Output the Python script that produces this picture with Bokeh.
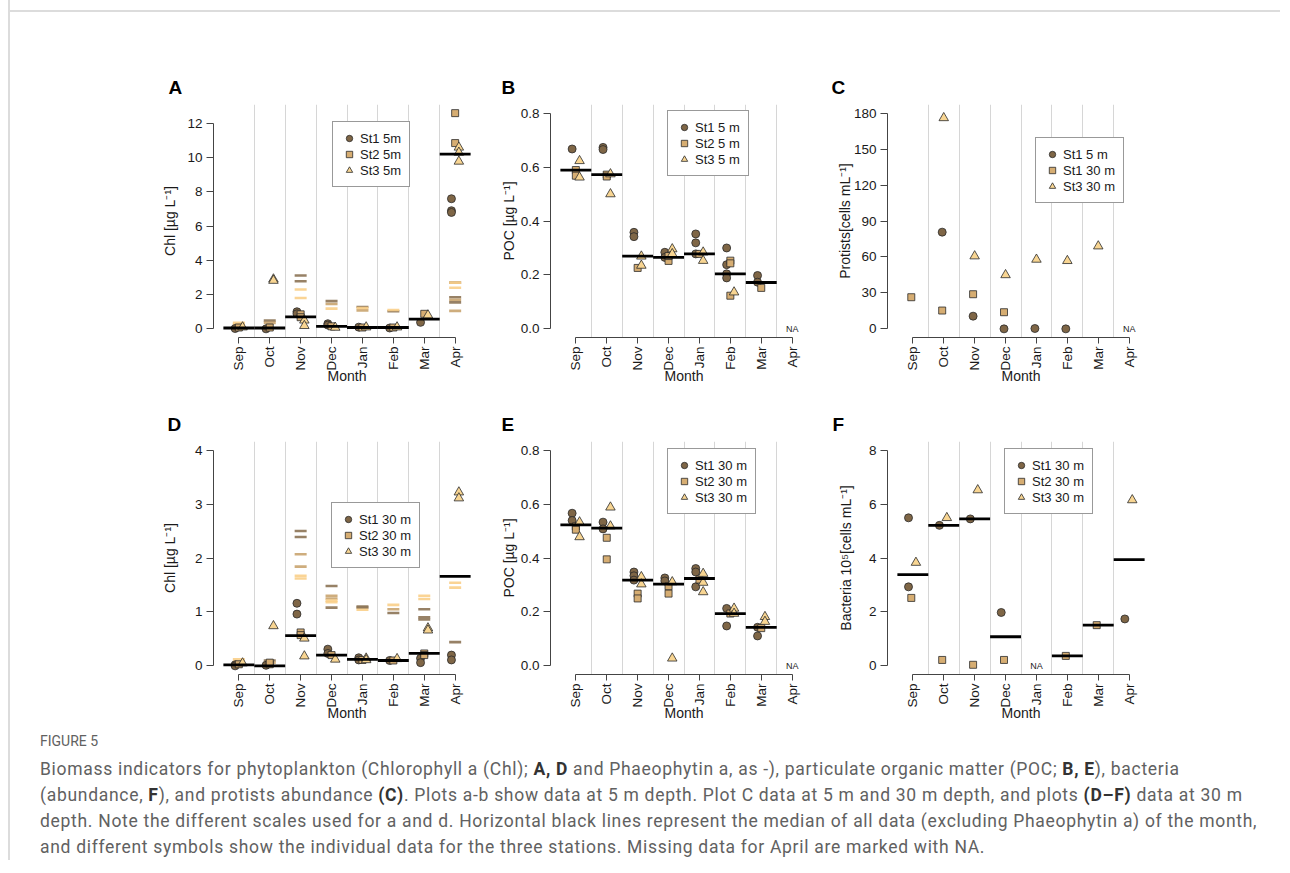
import numpy as np
from bokeh.plotting import figure
from bokeh.models import Range1d, FixedTicker, Div, Spacer
from bokeh.layouts import row, column
from bokeh.embed import file_html
from bokeh.resources import INLINE
from bokeh.core.properties import value

MONTHS = ["Sep", "Oct", "Nov", "Dec", "Jan", "Feb", "Mar", "Apr"]

# ---------------- Panel A: Chl, 5 m ----------------
A_st1_month = ["Sep", "Oct", "Nov", "Nov", "Dec", "Dec", "Jan", "Feb", "Mar", "Apr", "Apr", "Apr"]
A_st1_val = [0.02, 0.0, 1.0, 0.88, 0.3, 0.22, 0.1, 0.05, 0.38, 7.6, 6.9, 6.8]
A_st2_month = ["Sep", "Oct", "Nov", "Nov", "Dec", "Jan", "Feb", "Mar", "Apr", "Apr"]
A_st2_val = [0.08, 0.08, 0.85, 0.68, 0.15, 0.08, 0.08, 0.88, 12.6, 10.85]
A_st3_month = ["Sep", "Oct", "Oct", "Nov", "Nov", "Dec", "Jan", "Feb", "Mar", "Apr", "Apr", "Apr"]
A_st3_val = [0.1, 2.9, 2.82, 0.5, 0.18, 0.08, 0.1, 0.1, 0.8, 10.6, 10.3, 9.78]
A_st1_phaeo_month = ["Oct", "Nov", "Nov", "Dec", "Jan", "Feb", "Apr", "Apr", "Apr"]
A_st1_phaeo = [0.48, 3.12, 2.78, 1.62, 1.28, 1.03, 2.7, 1.85, 1.55]
A_st2_phaeo_month = ["Sep", "Oct", "Dec", "Jan", "Apr", "Apr"]
A_st2_phaeo = [0.2, 0.35, 1.45, 1.08, 1.7, 1.05]
A_st3_phaeo_month = ["Sep", "Sep", "Nov", "Nov", "Dec", "Jan", "Feb", "Apr", "Apr"]
A_st3_phaeo = [0.35, 0.28, 2.3, 1.8, 1.18, 1.22, 1.1, 2.7, 2.4]
A_median_month = ["Sep", "Oct", "Nov", "Dec", "Jan", "Feb", "Mar", "Apr"]
A_median = [0.05, 0.05, 0.7, 0.15, 0.08, 0.08, 0.57, 10.2]
A_yticks = [0, 2, 4, 6, 8, 10, 12]
A_ytick_labels = ["0", "2", "4", "6", "8", "10", "12"]

# ---------------- Panel B: POC, 5 m ----------------
B_st1_month = ["Sep", "Oct", "Oct", "Nov", "Nov", "Dec", "Dec", "Jan", "Jan", "Jan", "Feb", "Feb", "Feb", "Feb", "Mar", "Mar"]
B_st1_val = [0.667, 0.673, 0.665, 0.358, 0.342, 0.284, 0.265, 0.352, 0.319, 0.278, 0.30, 0.238, 0.204, 0.189, 0.198, 0.173]
B_st2_month = ["Sep", "Sep", "Oct", "Oct", "Nov", "Dec", "Dec", "Jan", "Feb", "Feb", "Feb", "Mar"]
B_st2_val = [0.589, 0.568, 0.572, 0.565, 0.226, 0.252, 0.27, 0.278, 0.253, 0.243, 0.123, 0.152]
B_st3_month = ["Sep", "Sep", "Oct", "Oct", "Nov", "Nov", "Dec", "Dec", "Jan", "Jan", "Feb"]
B_st3_val = [0.623, 0.562, 0.574, 0.50, 0.269, 0.235, 0.296, 0.278, 0.284, 0.253, 0.136]
B_median_month = ["Sep", "Oct", "Nov", "Dec", "Jan", "Feb", "Mar"]
B_median = [0.589, 0.572, 0.27, 0.265, 0.278, 0.204, 0.172]
B_na_month = ["Apr"]
POC_yticks = [0.0, 0.2, 0.4, 0.6, 0.8]
POC_ytick_labels = ["0.0", "0.2", "0.4", "0.6", "0.8"]

# ---------------- Panel C: Protists ----------------
C_st1_5m_month = ["Oct", "Nov", "Dec", "Jan", "Feb"]
C_st1_5m_val = [80.7, 10.6, 0.0, 0.3, 0.0]
C_st1_30m_month = ["Sep", "Oct", "Nov", "Dec"]
C_st1_30m_val = [26.4, 15.3, 28.9, 13.9]
C_st3_30m_month = ["Oct", "Nov", "Dec", "Jan", "Feb", "Mar"]
C_st3_30m_val = [176.0, 60.7, 45.0, 57.9, 56.8, 69.0]
C_na_month = ["Apr"]
C_yticks = [0, 30, 60, 90, 120, 150, 180]
C_ytick_labels = ["0", "30", "60", "90", "120", "150", "180"]

# ---------------- Panel D: Chl, 30 m ----------------
D_st1_month = ["Sep", "Sep", "Oct", "Nov", "Nov", "Dec", "Dec", "Jan", "Jan", "Feb", "Mar", "Mar", "Apr", "Apr"]
D_st1_val = [0.02, 0.0, 0.01, 1.16, 0.96, 0.31, 0.23, 0.15, 0.11, 0.1, 0.14, 0.06, 0.2, 0.11]
D_st2_month = ["Sep", "Oct", "Oct", "Nov", "Nov", "Dec", "Jan", "Feb", "Mar", "Mar"]
D_st2_val = [0.03, 0.03, 0.06, 0.62, 0.57, 0.2, 0.11, 0.1, 0.23, 0.2]
D_st3_month = ["Sep", "Oct", "Nov", "Nov", "Dec", "Jan", "Jan", "Feb", "Mar", "Mar", "Apr", "Apr"]
D_st3_val = [0.05, 0.74, 0.51, 0.18, 0.12, 0.14, 0.11, 0.13, 0.7, 0.66, 3.22, 3.11]
D_st1_phaeo_month = ["Oct", "Nov", "Nov", "Dec", "Dec", "Jan", "Jan", "Feb", "Mar", "Mar", "Mar", "Apr"]
D_st1_phaeo = [0.1, 2.5, 2.39, 1.48, 1.08, 1.1, 1.08, 0.98, 1.05, 0.9, 0.86, 0.44]
D_st2_phaeo_month = ["Sep", "Oct", "Nov", "Nov", "Dec", "Dec", "Feb"]
D_st2_phaeo = [0.05, 0.06, 2.07, 1.84, 1.3, 1.25, 1.05]
D_st3_phaeo_month = ["Sep", "Sep", "Nov", "Nov", "Dec", "Dec", "Jan", "Feb", "Mar", "Mar", "Apr", "Apr"]
D_st3_phaeo = [0.12, 0.08, 1.67, 1.62, 1.21, 1.18, 1.04, 1.13, 1.3, 1.24, 1.54, 1.45]
D_median_month = ["Sep", "Oct", "Nov", "Dec", "Jan", "Feb", "Mar", "Apr"]
D_median = [0.02, 0.0, 0.56, 0.2, 0.12, 0.1, 0.23, 1.66]
D_yticks = [0, 1, 2, 3, 4]
D_ytick_labels = ["0", "1", "2", "3", "4"]

# ---------------- Panel E: POC, 30 m ----------------
E_st1_month = ["Sep", "Sep", "Oct", "Oct", "Nov", "Nov", "Nov", "Dec", "Dec", "Jan", "Jan", "Jan", "Feb", "Feb", "Mar", "Mar"]
E_st1_val = [0.566, 0.539, 0.533, 0.508, 0.348, 0.334, 0.318, 0.326, 0.315, 0.361, 0.348, 0.293, 0.213, 0.148, 0.143, 0.111]
E_st2_month = ["Sep", "Sep", "Oct", "Oct", "Nov", "Nov", "Dec", "Dec", "Jan", "Feb", "Mar"]
E_st2_val = [0.517, 0.505, 0.475, 0.395, 0.268, 0.25, 0.295, 0.268, 0.32, 0.194, 0.14]
E_st3_month = ["Sep", "Sep", "Oct", "Oct", "Nov", "Nov", "Dec", "Dec", "Jan", "Jan", "Jan", "Feb", "Feb", "Mar", "Mar"]
E_st3_val = [0.533, 0.478, 0.588, 0.518, 0.33, 0.303, 0.311, 0.028, 0.342, 0.309, 0.274, 0.213, 0.194, 0.182, 0.164]
E_median_month = ["Sep", "Oct", "Nov", "Dec", "Jan", "Feb", "Mar"]
E_median = [0.523, 0.511, 0.318, 0.303, 0.324, 0.194, 0.143]
E_na_month = ["Apr"]

# ---------------- Panel F: Bacteria ----------------
F_st1_month = ["Sep", "Sep", "Oct", "Nov", "Dec", "Apr"]
F_st1_val = [5.49, 2.93, 5.21, 5.45, 1.98, 1.74]
F_st2_month = ["Sep", "Oct", "Nov", "Dec", "Feb", "Mar"]
F_st2_val = [2.52, 0.22, 0.04, 0.22, 0.37, 1.51]
F_st3_month = ["Sep", "Oct", "Nov", "Apr"]
F_st3_val = [3.83, 5.49, 6.52, 6.15]
F_median_month = ["Sep", "Oct", "Nov", "Dec", "Feb", "Mar", "Apr"]
F_median = [3.38, 5.21, 5.45, 1.08, 0.37, 1.51, 3.94]
F_na_month = ["Jan"]
F_yticks = [0, 2, 4, 6, 8]
F_ytick_labels = ["0", "2", "4", "6", "8"]

CAPTION_TITLE = "FIGURE 5"
CAPTION_LINES = [
    "Biomass indicators for phytoplankton (Chlorophyll a (Chl); <b>A, D</b> and Phaeophytin a, as -), particulate organic matter (POC; <b>B, E</b>), bacteria",
    "(abundance, <b>F</b>), and protists abundance <b>(C)</b>. Plots a-b show data at 5 m depth. Plot C data at 5 m and 30 m depth, and plots <b>(D\u2013F)</b> data at 30 m",
    "depth. Note the different scales used for a and d. Horizontal black lines represent the median of all data (excluding Phaeophytin a) of the month,",
    "and different symbols show the individual data for the three stations. Missing data for April are marked with NA.",
]

# ---------------- styling ----------------
FONT = "Liberation Sans"
TXT = "#1a1a1a"
AX = "#444444"
MARK = [("circle", "#7f6646", 8), ("square", "#d6ad72", 7), ("triangle", "#f8d592", 9.5)]
PHAEO_COL = ["#8c7355", "#c9a46f", "#f9cf8a"]


def xpos(months, off=0.0):
    return [MONTHS.index(m) + 1 + off for m in months]


def make_panel(letter, letter_off, ylab, ylab_standoff, ylim, yticks, ylabels,
               stations, labels, legend_xy, top_border, offsets=(-0.12, 0.0, 0.12),
               phaeo=None, median=None, na=None):
    span = ylim[1] - ylim[0]
    p = figure(frame_width=267, frame_height=233,
               x_range=Range1d(0.18, 8.82),
               y_range=Range1d(ylim[0] - 0.04 * span, ylim[1] + 0.04 * span),
               output_backend="svg", toolbar_location=None,
               min_border_left=70, min_border_right=0,
               min_border_top=top_border, min_border_bottom=52)
    p.outline_line_color = None
    p.background_fill_color = "white"
    p.border_fill_color = "white"

    p.title.text = letter
    p.title.align = "left"
    p.title.offset = letter_off
    p.title.text_font = FONT
    p.title.text_font_size = "19px"
    p.title.text_font_style = "bold"
    p.title.text_color = "black"
    p.title.standoff = 14

    p.ygrid.visible = False
    p.xgrid.ticker = FixedTicker(ticks=[1.5, 2.5, 3.5, 4.5, 5.5, 6.5, 7.5])
    p.xgrid.grid_line_color = "#d6d6d6"
    p.xgrid.grid_line_width = 1

    xa = p.xaxis[0]
    xa.ticker = FixedTicker(ticks=list(range(1, 9)))
    xa.major_label_overrides = {i + 1: m for i, m in enumerate(MONTHS)}
    xa.major_label_orientation = np.pi / 2
    xa.bounds = (1, 8)
    xa.axis_label = "Month"
    xa.major_tick_out = 6
    xa.major_tick_in = 0
    xa.major_label_standoff = 3
    xa.axis_label_standoff = -6

    ya = p.yaxis[0]
    ya.ticker = FixedTicker(ticks=yticks)
    ya.major_label_overrides = dict(zip(yticks, ylabels))
    ya.bounds = (yticks[0], yticks[-1])
    ya.axis_label = ylab
    ya.major_tick_out = 7
    ya.major_tick_in = 0
    ya.major_label_standoff = 4
    ya.axis_label_standoff = ylab_standoff

    for ax in (xa, ya):
        ax.minor_tick_line_color = None
        ax.axis_line_color = AX
        ax.major_tick_line_color = AX
        ax.major_label_text_font = FONT
        ax.major_label_text_font_size = "13.5px"
        ax.major_label_text_color = TXT
        ax.axis_label_text_font = FONT
        ax.axis_label_text_font_size = "14px"
        ax.axis_label_text_font_style = "normal"
        ax.axis_label_text_color = TXT

    if phaeo:
        for k, (pm, pv) in enumerate(phaeo):
            p.scatter(xpos(pm), pv, marker="dash", size=12, line_color=PHAEO_COL[k],
                      line_width=2.6, line_alpha=0.9)

    for k, ((sm, sv), lab) in enumerate(zip(stations, labels)):
        mk, col, sz = MARK[k]
        p.scatter(xpos(sm, offsets[k]), sv, marker=mk, size=sz, fill_color=col,
                  line_color="#2a2a2a", line_width=0.8, legend_label=lab)

    if median:
        mm, mv = median
        xc = np.array(xpos(mm))
        p.segment(x0=xc - 0.5, y0=mv, x1=xc + 0.5, y1=mv, line_color="black", line_width=2.8)

    if na:
        p.text(x=xpos(na), y=[0] * len(na), text=["NA"] * len(na), text_font=value(FONT),
               text_font_size="9px", text_align="center", text_baseline="middle",
               text_color="#222222")

    lg = p.legend[0]
    lg.location = legend_xy
    lg.border_line_color = "#333333"
    lg.border_line_width = 1
    lg.background_fill_color = "white"
    lg.background_fill_alpha = 1.0
    lg.label_text_font = FONT
    lg.label_text_font_size = "13px"
    lg.label_text_color = TXT
    lg.glyph_width = 16
    lg.glyph_height = 16
    lg.label_height = 16
    lg.spacing = 0
    lg.padding = 8
    lg.margin = 0
    lg.label_standoff = 3
    return p


pA = make_panel("A", -45, "Chl [\u00b5g L\u207b\u00b9]", 6, (0, 12.6), A_yticks, A_ytick_labels,
                [(A_st1_month, A_st1_val), (A_st2_month, A_st2_val), (A_st3_month, A_st3_val)],
                ["St1 5m", "St2 5m", "St3 5m"], (119, 150), 92,
                phaeo=[(A_st1_phaeo_month, A_st1_phaeo), (A_st2_phaeo_month, A_st2_phaeo),
                       (A_st3_phaeo_month, A_st3_phaeo)],
                median=(A_median_month, A_median))
pB = make_panel("B", -49, "POC [\u00b5g L\u207b\u00b9]", 1, (0, 0.8), POC_yticks, POC_ytick_labels,
                [(B_st1_month, B_st1_val), (B_st2_month, B_st2_val), (B_st3_month, B_st3_val)],
                ["St1 5 m", "St2 5 m", "St3 5 m"], (117, 161), 92,
                median=(B_median_month, B_median), na=B_na_month)
pC = make_panel("C", -56, "Protists[cells mL\u207b\u00b9]", -2, (0, 180), C_yticks, C_ytick_labels,
                [(C_st1_5m_month, C_st1_5m_val), (C_st1_30m_month, C_st1_30m_val),
                 (C_st3_30m_month, C_st3_30m_val)],
                ["St1 5 m", "St1 30 m", "St3 30 m"], (148, 134), 92,
                offsets=(-0.05, -0.05, 0.0), na=C_na_month)
pD = make_panel("D", -46, "Chl [\u00b5g L\u207b\u00b9]", 14, (0, 4), D_yticks, D_ytick_labels,
                [(D_st1_month, D_st1_val), (D_st2_month, D_st2_val), (D_st3_month, D_st3_val)],
                ["St1 30 m", "St2 30 m", "St3 30 m"], (118, 106), 52,
                phaeo=[(D_st1_phaeo_month, D_st1_phaeo), (D_st2_phaeo_month, D_st2_phaeo),
                       (D_st3_phaeo_month, D_st3_phaeo)],
                median=(D_median_month, D_median))
pE = make_panel("E", -49, "POC [\u00b5g L\u207b\u00b9]", 1, (0, 0.8), POC_yticks, POC_ytick_labels,
                [(E_st1_month, E_st1_val), (E_st2_month, E_st2_val), (E_st3_month, E_st3_val)],
                ["St1 30 m", "St2 30 m", "St3 30 m"], (117, 160), 52,
                median=(E_median_month, E_median), na=E_na_month)
pF = make_panel("F", -55, "Bacteria 10\u2075[cells mL\u207b\u00b9]", 12, (0, 8), F_yticks, F_ytick_labels,
                [(F_st1_month, F_st1_val), (F_st2_month, F_st2_val), (F_st3_month, F_st3_val)],
                ["St1 30 m", "St2 30 m", "St3 30 m"], (117, 160), 52,
                offsets=(-0.14, -0.05, 0.1),
                median=(F_median_month, F_median), na=F_na_month)

caption_html = (
    '<div style="padding-left:30px; font-family:Roboto, sans-serif; color:#616161; white-space:nowrap;">'
    '<div style="margin-top:5px; font-size:14px; line-height:20px;">' + CAPTION_TITLE + '</div>'
    '<div style="margin-top:5px; font-size:17.5px; line-height:26px; letter-spacing:0.7px;">'
    + "<br>".join(CAPTION_LINES).replace("<b>", '<b style="color:#333;">') +
    '</div></div>'
)
caption = Div(text=caption_html, width=1270, height=134, margin=0)

hline = Spacer(width=1270, height=2, margin=0, styles={"background-color": "#dcdcdc"})

top_row = row(Spacer(width=133, height=10), pA, pB, pC)
bottom_row = row(Spacer(width=133, height=10), pD, pE, pF)
right = column(Spacer(width=10, height=10), hline, top_row, bottom_row, caption,
               styles={"border-left": "2px solid #dcdcdc"})
root = row(Spacer(width=8, height=2), right)

open("out.html", "w").write(file_html(root, INLINE))
